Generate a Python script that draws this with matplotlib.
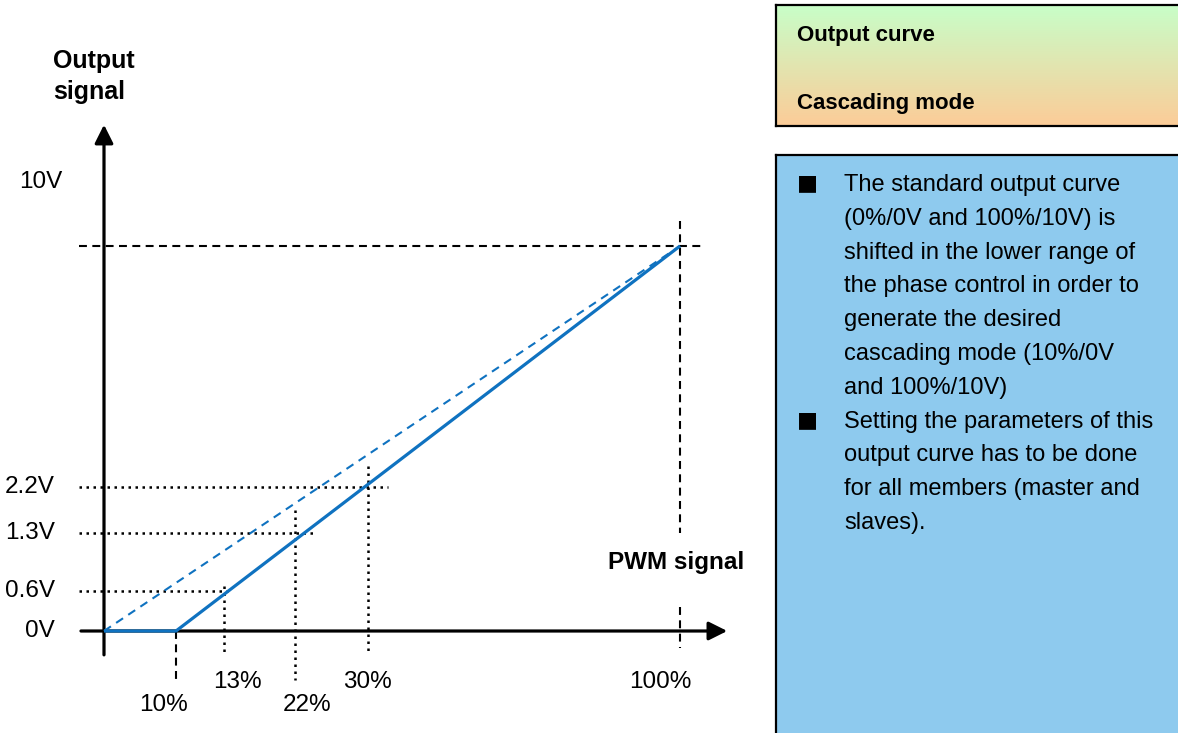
import numpy as np
import matplotlib
matplotlib.use("Agg")
import matplotlib.pyplot as plt
from matplotlib import font_manager
from matplotlib.colors import LinearSegmentedColormap

# pick a narrow sans if we have one
names = {f.name for f in font_manager.fontManager.ttflist}
FONT = "Liberation Sans Narrow" if "Liberation Sans Narrow" in names else "Liberation Sans"
plt.rcParams["font.family"] = [FONT, "DejaVu Sans"]

# --- data (schematic positions as drawn, labels as printed) ---
pwm_labels = ["10%", "13%", "22%", "30%", "100%"]
pwm_pos = [12.5, 20.8, 33.2, 45.8, 100.0]
volt_labels = ["0V", "0.6V", "1.3V", "2.2V", "10V"]
volt_pos = [0.0, 1.04, 2.55, 3.74, 10.0]

cascade_x = [0.0, 12.5, 100.0]
cascade_y = [0.0, 0.0, 10.0]
standard_x = [0.0, 100.0]
standard_y = [0.0, 10.0]

header_lines = ["Output curve", "Cascading mode"]
bullet_1 = ["The standard output curve", "(0%/0V and 100%/10V) is",
            "shifted in the lower range of", "the phase control in order to",
            "generate the desired", "cascading mode (10%/0V",
            "and 100%/10V)"]
bullet_2 = ["Setting the parameters of this", "output curve has to be done",
            "for all members (master and", "slaves)."]

W, H = 1178, 733
fig = plt.figure(figsize=(W / 100, H / 100), dpi=100)

# main axes spans the whole figure; 0%->104px, 100%->680px, 0V->631px, 10V->246px
ax = fig.add_axes([0, 0, 1, 1])
ax.set_xlim((0 - 104) / 5.76, (W - 104) / 5.76)
ax.set_ylim((631 - H) / 38.5, 631 / 38.5)
ax.axis("off")

blue = "#0f72c0"
ax.plot(standard_x, standard_y, color=blue, lw=1.5, ls=(0, (4, 3)), zorder=3)
ax.plot(cascade_x, cascade_y, color=blue, lw=2.3, zorder=4, solid_capstyle="butt")

# axes with arrows
ax.annotate("", xy=(108.2, 0), xytext=(-4.0, 0),
            arrowprops=dict(arrowstyle="-|>", lw=2.3, color="k", mutation_scale=28,
                            shrinkA=0, shrinkB=0), zorder=2)
ax.annotate("", xy=(0, 13.15), xytext=(0, -0.62),
            arrowprops=dict(arrowstyle="-|>", lw=2.3, color="k", mutation_scale=28,
                            shrinkA=0, shrinkB=0), zorder=2)

dash = dict(color="k", lw=1.5, ls=(0, (3.8, 2.6)), zorder=1)
dot = dict(color="k", lw=1.8, ls=(0, (1, 1.8)), zorder=1)

# 10V / 100% reference lines
ax.plot([-4.3, 104.0], [volt_pos[4], volt_pos[4]], **dash)
ax.plot([pwm_pos[4], pwm_pos[4]], [10.65, 2.55], **dash)
ax.plot([pwm_pos[4], pwm_pos[4]], [0.62, -0.44], **dash)
# 10% start point
ax.plot([pwm_pos[0], pwm_pos[0]], [0, -1.27], **dash)

# dotted guides for 13/22/30 %
h_over = [0.7, 3.4, 3.5]
v_top = [0.13, 0.6, 0.55]
v_bot = [-0.62, -1.27, -0.62]
for i in range(3):
    xp, yp = pwm_pos[i + 1], volt_pos[i + 1]
    ax.plot([-4.3, xp + h_over[i]], [yp, yp], **dot)
    ax.plot([xp, xp], [yp + v_top[i], v_bot[i]], **dot)

fs = 17.5
# x labels
lab_xy = [(10.4, -1.92), (23.1, -1.32), (35.2, -1.92), (45.8, -1.32), (96.6, -1.32)]
for lab, (lx, ly) in zip(pwm_labels, lab_xy):
    ax.text(lx, ly, lab, ha="center", va="center", fontsize=fs)
# y labels
for lab, yp in zip(volt_labels[:4], volt_pos[:4]):
    ax.text(-8.5, yp, lab, ha="right", va="center", fontsize=fs)
ax.text(-7.3, 11.66, volt_labels[4], ha="right", va="center", fontsize=fs)

ax.text(-8.85, 14.4, "Output\nsignal", ha="left", va="center", fontsize=18,
        fontweight="bold", linespacing=1.35)
ax.text(99.3, 1.79, "PWM signal", ha="center", va="center", fontsize=17.5,
        fontweight="bold")

# --- right side panels ---
def fx(px):
    return px / W

def fy(py):
    return 1 - py / H

hax = fig.add_axes([fx(776), fy(126), 0.4, (126 - 5) / H])
cmap = LinearSegmentedColormap.from_list("hdr", ["#c8fec8", "#fccc98"])
hax.imshow(np.linspace(0, 1, 100).reshape(-1, 1), aspect="auto", cmap=cmap,
           extent=[0, 1, 0, 1])
hax.set_xticks([])
hax.set_yticks([])
for s in hax.spines.values():
    s.set_linewidth(1.6)
fig.text(fx(797), fy(36), header_lines[0], fontsize=16, fontweight="bold", va="center")
fig.text(fx(797), fy(103), header_lines[1], fontsize=16, fontweight="bold", va="center")

bax = fig.add_axes([fx(776), -0.05, 0.4, fy(155) + 0.05])
bax.set_facecolor("#8ecaee")
bax.set_xticks([])
bax.set_yticks([])
for s in bax.spines.values():
    s.set_linewidth(1.6)

step = 33.8
y0 = 185
for j, line in enumerate(bullet_1 + bullet_2):
    fig.text(fx(844), fy(y0 + j * step), line, fontsize=17, va="center")
for j in (0, len(bullet_1)):
    fig.text(fx(807), fy(y0 + j * step - 1.5), "\u25a0", fontsize=16, va="center",
             ha="center", family="DejaVu Sans")

fig.savefig("out.png", dpi=100)
